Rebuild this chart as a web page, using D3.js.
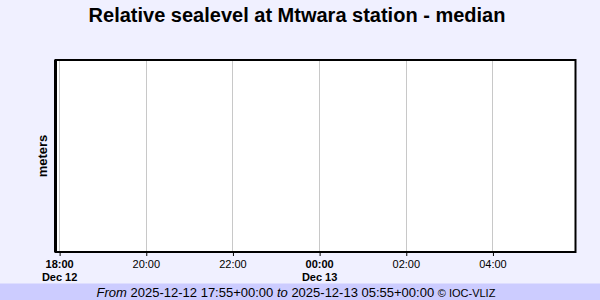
<!DOCTYPE html>
<html><head><meta charset="utf-8">
<script src="https://cdn.jsdelivr.net/npm/d3@7"></script>
<style>
html,body{margin:0;padding:0;background:#f0f0ff;}
svg{display:block;font-family:"Liberation Sans",Arial,sans-serif;}
</style></head><body>
<svg id="c" width="600" height="300"></svg>
<script>
const title = "Relative sealevel at Mtwara station - median";
const yLabel = "meters";
const timeStart = "2025-12-12T17:55:00Z";
const timeEnd = "2025-12-13T05:55:00Z";
const tickTimes = ["2025-12-12T18:00:00Z","2025-12-12T20:00:00Z","2025-12-12T22:00:00Z","2025-12-13T00:00:00Z","2025-12-13T02:00:00Z","2025-12-13T04:00:00Z"];
const tickLabels = ["18:00","20:00","22:00","00:00","02:00","04:00"];
const tickDates = ["Dec 12","","","Dec 13","",""];
const footerFrom = "2025-12-12 17:55+00:00";
const footerTo = "2025-12-13 05:55+00:00";
const credit = "© IOC-VLIZ";

const svg = d3.select("#c");
const W=600,H=300;
const m={l:55.5,r:575.5,t:60,b:252};
svg.append("rect").attr("width",W).attr("height",H).attr("fill","#f0f0ff");
const x = d3.scaleUtc().domain([new Date(timeStart),new Date(timeEnd)]).range([m.l,m.r]);

svg.append("rect").attr("x",m.l).attr("y",m.t).attr("width",m.r-m.l).attr("height",m.b-m.t).attr("fill","#fff");
const ticks = tickTimes.map(t=>new Date(t));
svg.append("g").selectAll("line").data(ticks).join("line")
 .attr("x1",d=>Math.round(x(d))+0.5).attr("x2",d=>Math.round(x(d))+0.5)
 .attr("y1",m.t).attr("y2",m.b).attr("stroke","#c8c8c8").attr("stroke-width",1);
svg.append("rect").attr("x",m.l).attr("y",m.t).attr("width",m.r-m.l).attr("height",m.b-m.t)
 .attr("fill","none").attr("stroke","#000").attr("stroke-width",2);
svg.append("line").attr("x1",m.l).attr("x2",m.l).attr("y1",m.t).attr("y2",m.b).attr("stroke","#000").attr("stroke-width",3);

const ax = svg.append("g").attr("transform",`translate(0,${m.b})`)
 .call(d3.axisBottom(x).tickValues(ticks).tickSize(4).tickSizeOuter(0).tickFormat((d,i)=>tickLabels[i]));
ax.select(".domain").remove();
ax.selectAll(".tick line").attr("stroke","#000").attr("transform","translate(0.5,0)");
ax.selectAll(".tick text").attr("font-size",11).attr("fill","#000").attr("dy","0.8em").attr("y",7)
 .attr("font-family","Liberation Sans, Arial, sans-serif")
 .attr("font-weight",(d,i)=>tickDates[i]?"bold":"normal");
ax.selectAll(".tick").filter((d,i)=>tickDates[i]).append("text")
 .attr("y",20).attr("dy","0.8em").attr("text-anchor","middle").attr("font-size",11).attr("font-weight","bold")
 .attr("fill","#000").attr("font-family","Liberation Sans, Arial, sans-serif")
 .text((d)=>tickDates[ticks.findIndex(t=>+t===+d)]);

svg.append("text").attr("x",297).attr("y",22).attr("text-anchor","middle")
 .attr("font-size",20).attr("font-weight","bold").text(title);
svg.append("text").attr("transform","translate(47,156) rotate(-90)").attr("text-anchor","middle")
 .attr("font-size",13).attr("font-weight","bold").text(yLabel);

svg.append("rect").attr("x",0).attr("y",283.5).attr("width",W).attr("height",H-283.5).attr("fill","#ccccff");
const ft = svg.append("text").attr("x",296).attr("y",297).attr("text-anchor","middle").attr("font-size",13);
ft.append("tspan").attr("font-style","italic").text("From ");
ft.append("tspan").text(footerFrom);
ft.append("tspan").attr("font-style","italic").text(" to ");
ft.append("tspan").text(footerTo+" ");
ft.append("tspan").attr("font-size",11).text(credit);
</script></body></html>
